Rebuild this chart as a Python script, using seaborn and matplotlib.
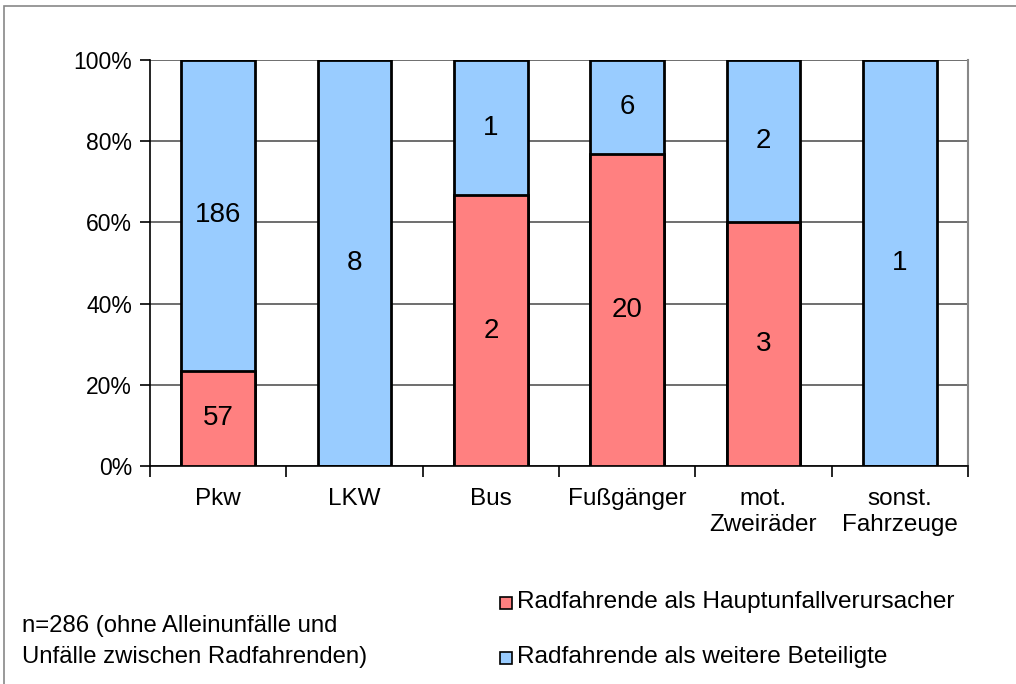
import numpy as np
import pandas as pd
import seaborn as sns
import matplotlib.pyplot as plt
from matplotlib.patches import Rectangle

# data
categories = ["Pkw", "LKW", "Bus", "Fußgänger", "mot.\nZweiräder", "sonst.\nFahrzeuge"]
haupt = [57, 0, 2, 20, 3, 0]       # Radfahrende als Hauptunfallverursacher
weitere = [186, 8, 1, 6, 2, 1]     # Radfahrende als weitere Beteiligte
yticks = [0, 20, 40, 60, 80, 100]

red = "#FF8080"
blue = "#99CCFF"

sns.set_style("white")
plt.rcParams['font.family'] = ['Liberation Sans', 'DejaVu Sans']
plt.rcParams['text.color'] = 'black'
plt.rcParams['xtick.color'] = 'black'
plt.rcParams['ytick.color'] = 'black'

haupt = np.array(haupt)
weitere = np.array(weitere)
total = haupt + weitere
df = pd.DataFrame({
    "cat": categories,
    "red_pct": haupt / total * 100,
    "all_pct": np.full(len(categories), 100.0),
})

fig = plt.figure(figsize=(10.16, 6.84), dpi=100)
ax = fig.add_axes([150/1016, 1-466/684, 818/1016, 406/684])

for y in yticks:
    ax.axhline(y, color="#555555", lw=1.2, zorder=0)

sns.barplot(data=df, x="cat", y="all_pct", color=blue, width=0.54,
            edgecolor="black", linewidth=2, saturation=1, ax=ax, zorder=2)
sns.barplot(data=df, x="cat", y="red_pct", color=red, width=0.54,
            edgecolor="black", linewidth=2, saturation=1, ax=ax, zorder=3)

# segment labels
for i in range(len(categories)):
    rp = df["red_pct"][i]
    if haupt[i] > 0:
        ax.text(i, rp / 2, str(haupt[i]), ha="center", va="center", fontsize=20, zorder=4)
    if weitere[i] > 0:
        ax.text(i, rp + (100 - rp) / 2, str(weitere[i]), ha="center", va="center", fontsize=20, zorder=4)

ax.set_xlim(-0.5, len(categories) - 0.5)
ax.set_ylim(0, 100)
ax.set_yticks(yticks)
ax.set_yticklabels([f"{v}%" for v in yticks], fontsize=16.5)
ax.set_xticks(range(len(categories)))
ax.set_xticklabels(categories, fontsize=17.5, linespacing=1.25)
ax.tick_params(axis="x", length=0, pad=16)
ax.tick_params(axis="y", length=7, width=1.2, left=True, pad=6)
ax.set_xticks(np.arange(-0.5, len(categories), 1), minor=True)
ax.tick_params(axis="x", which="minor", length=8, width=1.2, bottom=True)
ax.set_xlabel("")
ax.set_ylabel("")
ax.spines["top"].set_visible(False)
ax.spines["right"].set_color("#888888")
ax.spines["right"].set_linewidth(1.5)
for s in ["left", "bottom"]:
    ax.spines[s].set_color("black")
    ax.spines[s].set_linewidth(1.2)

# legend
fig.patches.append(Rectangle((500/1016, 1-609/684), 12/1016, 12/684, transform=fig.transFigure,
                             facecolor=red, edgecolor="black", lw=1.2))
fig.text(517/1016, 1-602/684, "Radfahrende als Hauptunfallverursacher", fontsize=17.6, va="center")
fig.patches.append(Rectangle((500/1016, 1-664/684), 12/1016, 12/684, transform=fig.transFigure,
                             facecolor=blue, edgecolor="black", lw=1.2))
fig.text(517/1016, 1-657/684, "Radfahrende als weitere Beteiligte", fontsize=17.6, va="center")

# note
fig.text(22/1016, 1-626/684, "n=286 (ohne Alleinunfälle und", fontsize=17.2, va="center")
fig.text(22/1016, 1-657/684, "Unfälle zwischen Radfahrenden)", fontsize=17.2, va="center")

# frame around figure
fig.patches.append(Rectangle((4/1016, -0.01), 1.2, 1-6/684 + 0.01, transform=fig.transFigure,
                             facecolor="none", edgecolor="#888888", lw=1.2))

fig.savefig("out.png", dpi=100)
